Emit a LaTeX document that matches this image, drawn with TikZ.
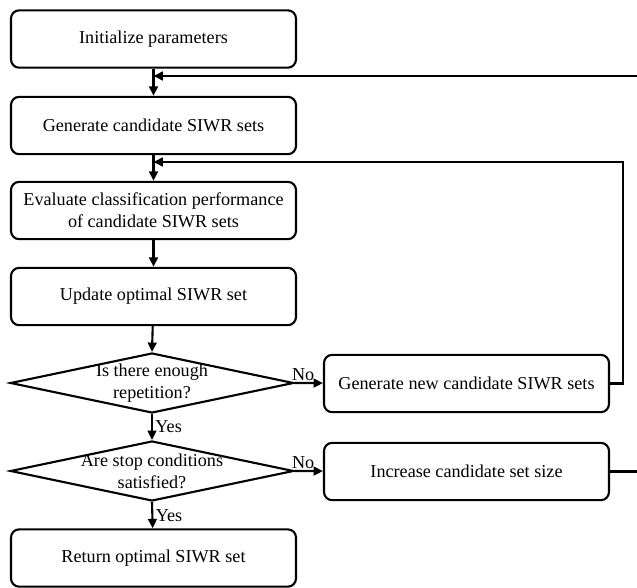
\documentclass[tikz,border=0pt]{standalone}
\usepackage{fontspec}
\setmainfont{Liberation Serif}
\usetikzlibrary{shapes.geometric,arrows.meta}
\begin{document}
\begin{tikzpicture}[
    x=0.03cm, y=-0.03cm,
    font=\fontsize{15.5}{19}\selectfont,
    box/.style={draw, rounded corners=7pt, line width=1.8pt, align=center, minimum width=8.55cm, minimum height=1.72cm, inner sep=0pt},
    test/.style={draw, diamond, line width=1.8pt, shape aspect=4.72, minimum width=8.5cm, minimum height=1.8cm, inner sep=0pt},
    flow/.style={line width=1.8pt, -{Triangle[length=8pt, width=7.5pt]}}
]
\useasboundingbox (0,0) rectangle (637,588);
\node[box] (init) at (153.5,39) {Initialize parameters};
\node[box] (gen) at (153.5,125.5) {Generate candidate SIWR sets};
\node[box] (eval) at (153.5,210.5) {Evaluate classification performance\\of candidate SIWR sets};
\node[box] (upd) at (153.5,296.5) {Update optimal SIWR set};
\node[test] (rep) at (152,383) {};
\node[align=center] (reptext) at (rep) {Is there enough\\repetition?};
\node[test] (stop) at (152,471) {};
\node[align=center] (stoptext) at (stop) {Are stop conditions\\satisfied?};
\node[box] (ret) at (153.5,558) {Return optimal SIWR set};
\node[box] (new) at (466.5,383.5) {Generate new candidate SIWR sets};
\node[box] (incr) at (466.5,471.5) {Increase candidate set size};
\coordinate (join1) at (153.5,76);
\coordinate (join2) at (153.5,162);
\draw[flow] (init) -- (gen);
\draw[flow] (gen) -- (eval);
\draw[flow] (eval) -- (upd);
\draw[flow] (upd) -- (rep.north);
\draw[flow] (rep.south) -- node[right, inner sep=2pt] {Yes} (stop.north);
\draw[flow] (stop.south) -- node[right, inner sep=2pt] {Yes} (ret);
\draw[flow] (rep.east) -- node[above, pos=0.3, inner sep=1pt] {No} (new);
\draw[flow] (stop.east) -- node[above, pos=0.3, inner sep=1pt] {No} (incr);
\draw[flow] (new.east) -| ++(13,-221.5) -- (join2);
\draw[flow] (incr.east) -| ++(32,-395.5) -- (join1);
\end{tikzpicture}
\end{document}
